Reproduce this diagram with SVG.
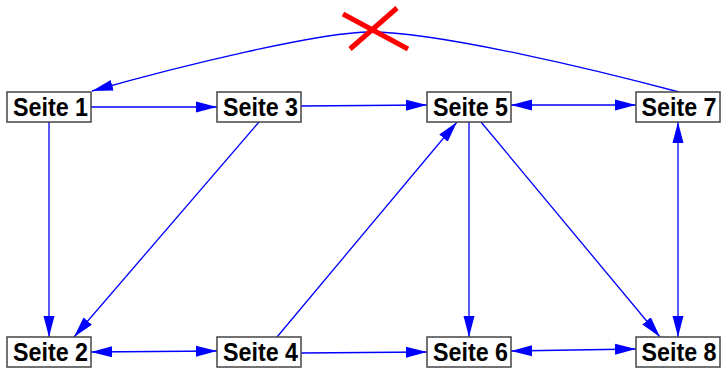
<svg xmlns="http://www.w3.org/2000/svg" width="722" height="368" viewBox="0 0 722 368">
<defs>
<marker id="ah" markerUnits="userSpaceOnUse" markerWidth="22" markerHeight="12" refX="21" refY="6" orient="auto-start-reverse" viewBox="0 0 22 12">
<path d="M0,0.5 L21,6 L0,11.5 Z" fill="#0000ff"/>
</marker>
<style>
.n rect{fill:#fff;stroke:#444;stroke-width:1.5}
.n text{font-family:"Liberation Sans",Arial,sans-serif;font-weight:bold;font-size:25px;fill:#000;text-anchor:middle}
.e path{fill:none;stroke:#0000ff;stroke-width:1.3}
.s{marker-end:url(#ah)}
.d{marker-start:url(#ah);marker-end:url(#ah)}
</style>
</defs>
<rect width="722" height="368" fill="#fff"/>
<g class="e" id="edges">
<path class="s" d="M679,92 C600,71 440,32 370,32 C320,32 180,66 92,91"/>
<path class="s" d="M91,107 L217,107"/>
<path class="s" d="M301,106 L427,105"/>
<path class="d" d="M511,105 L636,105"/>
<path class="s" d="M49,122 L49,337"/>
<path class="s" d="M259,122 L74,337"/>
<path class="s" d="M277,337 L457,122"/>
<path class="s" d="M469,122 L469,337"/>
<path class="s" d="M481,122 L660,337"/>
<path class="d" d="M678,122 L678,337"/>
<path class="d" d="M91,352 L217,351"/>
<path class="s" d="M301,353 L427,352"/>
<path class="d" d="M511,351 L636,349"/>
</g>
<g id="cross" stroke="#ff0000" stroke-width="5">
<line x1="343" y1="14" x2="408" y2="49"/>
<line x1="397" y1="8" x2="350" y2="49"/>
</g>
<g class="n" id="seite1"><rect x="7" y="92" width="84" height="30"/><text x="50.5" y="116" textLength="75" lengthAdjust="spacingAndGlyphs">Seite 1</text></g>
<g class="n" id="seite3"><rect x="217" y="92" width="84" height="30"/><text x="260.5" y="116" textLength="75" lengthAdjust="spacingAndGlyphs">Seite 3</text></g>
<g class="n" id="seite5"><rect x="427" y="92" width="84" height="30"/><text x="470.5" y="116" textLength="75" lengthAdjust="spacingAndGlyphs">Seite 5</text></g>
<g class="n" id="seite7"><rect x="636" y="92" width="84" height="30"/><text x="679" y="116" textLength="75" lengthAdjust="spacingAndGlyphs">Seite 7</text></g>
<g class="n" id="seite2"><rect x="7" y="337" width="84" height="30"/><text x="50.5" y="361" textLength="75" lengthAdjust="spacingAndGlyphs">Seite 2</text></g>
<g class="n" id="seite4"><rect x="217" y="337" width="84" height="30"/><text x="260.5" y="361" textLength="75" lengthAdjust="spacingAndGlyphs">Seite 4</text></g>
<g class="n" id="seite6"><rect x="427" y="337" width="84" height="30"/><text x="470.5" y="361" textLength="75" lengthAdjust="spacingAndGlyphs">Seite 6</text></g>
<g class="n" id="seite8"><rect x="636" y="337" width="84" height="30"/><text x="679" y="361" textLength="75" lengthAdjust="spacingAndGlyphs">Seite 8</text></g>
</svg>
